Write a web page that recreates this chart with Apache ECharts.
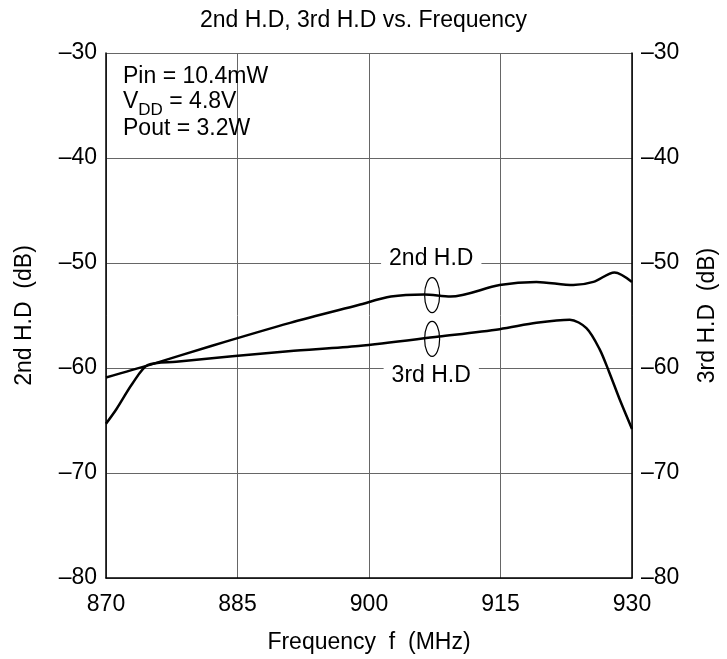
<!DOCTYPE html>
<html>
<head>
<meta charset="utf-8">
<script src="https://cdn.jsdelivr.net/npm/echarts@6/dist/echarts.min.js"></script>
<style>html,body{margin:0;padding:0;background:#fff;}#c{width:727px;height:659px;}</style>
</head>
<body>
<div id="c"></div>
<script>
// Data
var xTicks = [870, 885, 900, 915, 930];
var yTicks = [-80, -70, -60, -50, -40, -30];
var freq2 = [870, 875, 882, 891, 898.8, 902.5, 906.3, 909.3, 914.9, 919.1, 923.3, 925.6, 928.0, 930];
var hd2   = [-60.9, -59.7, -57.9, -55.7, -54.0, -53.2, -53.0, -53.2, -52.1, -51.8, -52.1, -51.8, -50.9, -51.8];
var freq3 = [870, 871.2, 873, 874.8, 878, 890.8, 898.8, 908, 914.9, 919.1, 922.9, 924.8, 926.3, 927.4, 928.6, 930];
var hd3   = [-65.3, -63.9, -61.5, -59.7, -59.4, -58.4, -57.9, -57.0, -56.3, -55.7, -55.4, -56.2, -58.2, -60.4, -63.0, -65.8];
var label2 = {text: '2nd H.D', f: 907.1, db: -49.6};
var label3 = {text: '3rd H.D', f: 907.1, db: -60.75};
var ring2 = {f: 907.2, db: -53.05};
var ring3 = {f: 907.2, db: -57.23};

var FONT = 'Liberation Sans, Arial, sans-serif';
var FS = 23;
function fmt(v){ return String(v).replace('-', '\u2013'); }

var chart = echarts.init(document.getElementById('c'), null, {renderer: 'canvas'});
function zip(a, b){ return a.map(function(x, i){ return [x, b[i]]; }); }

var yAxisBase = {
  type: 'value', min: -80, max: -30, interval: 10,
  axisLine: {show: true, lineStyle: {color: '#000', width: 1.5}},
  axisTick: {show: false},
  axisLabel: {color: '#000', fontFamily: FONT, fontSize: FS, formatter: fmt, margin: 9},
  nameLocation: 'middle',
  nameTextStyle: {color: '#000', fontFamily: FONT, fontSize: FS}
};

chart.setOption({
  animation: false,
  title: {text: '2nd H.D, 3rd H.D vs. Frequency', left: 'center', top: 4,
    textStyle: {color: '#000', fontFamily: FONT, fontSize: FS, fontWeight: 'normal'}},
  grid: {left: 106, right: 91, top: 53, bottom: 80},
  xAxis: {
    type: 'value', min: 870, max: 930, interval: 15,
    axisLine: {lineStyle: {color: '#000', width: 1.5}},
    axisTick: {show: false},
    axisLabel: {color: '#000', fontFamily: FONT, fontSize: FS, margin: 15},
    splitLine: {show: true, lineStyle: {color: '#666', width: 1}},
    name: 'Frequency  f  (MHz)', nameLocation: 'middle', nameGap: 53,
    nameTextStyle: {color: '#000', fontFamily: FONT, fontSize: FS}
  },
  yAxis: [
    Object.assign({}, yAxisBase, {position: 'left', name: '2nd H.D  (dB)', nameGap: 70,
      splitLine: {show: true, lineStyle: {color: '#666', width: 1}}}),
    Object.assign({}, yAxisBase, {position: 'right', name: '3rd H.D  (dB)', nameGap: 64, nameRotate: 90,
      splitLine: {show: false}})
  ],
  series: [
    {name: '2nd H.D', type: 'line', yAxisIndex: 0, data: zip(freq2, hd2), smooth: 0.3,
      showSymbol: false, lineStyle: {color: '#000', width: 2.5}},
    {name: '3rd H.D', type: 'line', yAxisIndex: 1, data: zip(freq3, hd3), smooth: 0.3,
      showSymbol: false, lineStyle: {color: '#000', width: 2.5}}
  ]
});

var measureCtx = document.createElement('canvas').getContext('2d');
function tw(t, fs){ measureCtx.font = fs + 'px ' + FONT; return measureCtx.measureText(t).width; }

function px(f, db){ return chart.convertToPixel({xAxisIndex: 0, yAxisIndex: 0}, [f, db]); }
var p2 = px(label2.f, label2.db), p3 = px(label3.f, label3.db);
var r2 = px(ring2.f, ring2.db), r3 = px(ring3.f, ring3.db);
var tl = px(870, -30);
var graphics = [];
function txt(t, x, y, fs, extra){
  var st = {text: t, font: fs + 'px ' + FONT, fill: '#000', align: 'left', verticalAlign: 'middle'};
  if (extra) Object.assign(st, extra);
  return {type: 'text', x: x, y: y, z: 10, style: st};
}
graphics.push(txt(label2.text, p2[0], p2[1], FS, {align: 'center', backgroundColor: '#fff', padding: [2, 8]}));
graphics.push(txt(label3.text, p3[0], p3[1], FS, {align: 'center', backgroundColor: '#fff', padding: [2, 8]}));
graphics.push({type: 'ellipse', z: 10, shape: {cx: r2[0], cy: r2[1], rx: 7.5, ry: 17.5}, style: {fill: 'none', stroke: '#000', lineWidth: 1.2}});
graphics.push({type: 'ellipse', z: 10, shape: {cx: r3[0], cy: r3[1], rx: 7.5, ry: 17.5}, style: {fill: 'none', stroke: '#000', lineWidth: 1.2}});

// Condition block
var cx0 = tl[0] + 17, cy0 = tl[1];
graphics.push(txt('Pin = 10.4mW', cx0, cy0 + 24, FS));
var wV = tw('V', FS);
graphics.push(txt('V', cx0, cy0 + 49, FS));
graphics.push(txt('DD', cx0 + wV, cy0 + 57, 17));
graphics.push(txt(' = 4.8V', cx0 + wV + tw('DD', 17), cy0 + 49, FS));
graphics.push(txt('Pout = 3.2W', cx0, cy0 + 76, FS));
chart.setOption({graphic: graphics});
</script>
</body>
</html>
